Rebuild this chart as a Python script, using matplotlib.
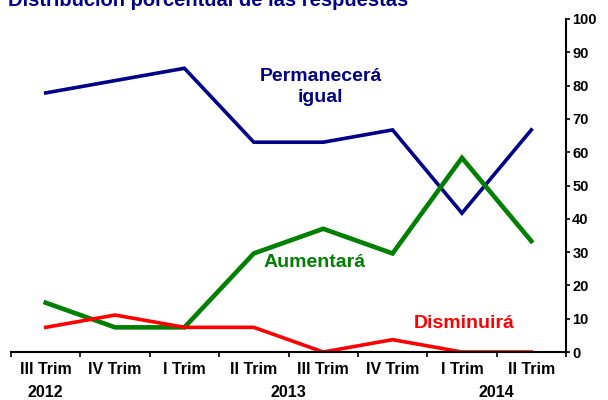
import matplotlib
matplotlib.use("Agg")
import matplotlib.pyplot as plt

plt.rcParams["font.family"] = ["Liberation Sans", "DejaVu Sans"]
plt.rcParams["font.weight"] = "bold"

quarters = ["III Trim", "IV Trim", "I Trim", "II Trim", "III Trim", "IV Trim", "I Trim", "II Trim"]
years = ["2012", "2013", "2014"]
year_pos = [0, 3.5, 6.5]
igual = [77.8, 81.5, 85.2, 63.0, 63.0, 66.7, 41.7, 66.7]
aumenta = [14.8, 7.4, 7.4, 29.6, 37.0, 29.6, 58.3, 33.3]
disminuye = [7.4, 11.1, 7.4, 7.4, 0.0, 3.7, 0.0, 0.0]

x = list(range(len(quarters)))

fig = plt.figure(figsize=(6.08, 4.0), dpi=100)
ax = fig.add_axes([11 / 608, 1 - 352 / 400, (566 - 11) / 608, (352 - 19) / 400])

ax.plot(x, igual, color="#00008B", lw=2.6, solid_joinstyle="miter")
ax.plot(x, aumenta, color="#008000", lw=3.3, solid_joinstyle="miter")
ax.plot(x, disminuye, color="#FF0000", lw=2.6, solid_joinstyle="miter")

ax.set_xlim(-0.5, 7.5)
ax.set_ylim(0, 100)
ax.yaxis.tick_right()
ax.set_yticks(range(0, 101, 10))
ax.tick_params(axis="y", direction="out", length=3, width=1.2, labelsize=10.5, pad=1.5)
for s in ["top", "left"]:
    ax.spines[s].set_visible(False)
ax.spines["right"].set_linewidth(1.5)
ax.spines["bottom"].set_linewidth(1.5)

ax.set_xticks([i - 0.5 for i in range(9)])
ax.set_xticklabels([])
ax.set_xticks(x, minor=True)
ax.set_xticklabels(quarters, minor=True, fontsize=11.5)
ax.tick_params(axis="x", which="major", direction="out", length=3.5, width=1.2)
ax.tick_params(axis="x", which="minor", length=0, pad=7)

for yr, p in zip(years, year_pos):
    ax.text(p, -12.3, yr, ha="center", va="center", fontsize=11.5, fontweight="bold",
            transform=ax.transData, clip_on=False)

ax.text(3.96, 79.7, "Permanecerá\nigual", color="#00008B", fontsize=14, fontweight="bold",
        ha="center", va="center", linespacing=1.3)
ax.text(3.87, 27, "Aumentará", color="#008000", fontsize=14, fontweight="bold",
        ha="center", va="center")
ax.text(6.03, 8.7, "Disminuirá", color="#FF0000", fontsize=14, fontweight="bold",
        ha="center", va="center")

fig.text(8 / 608, 1.0, "Distribución porcentual de las respuestas", color="#00008B",
         fontsize=14.5, fontweight="bold", ha="left", va="center")

fig.savefig("out.png", dpi=100)
